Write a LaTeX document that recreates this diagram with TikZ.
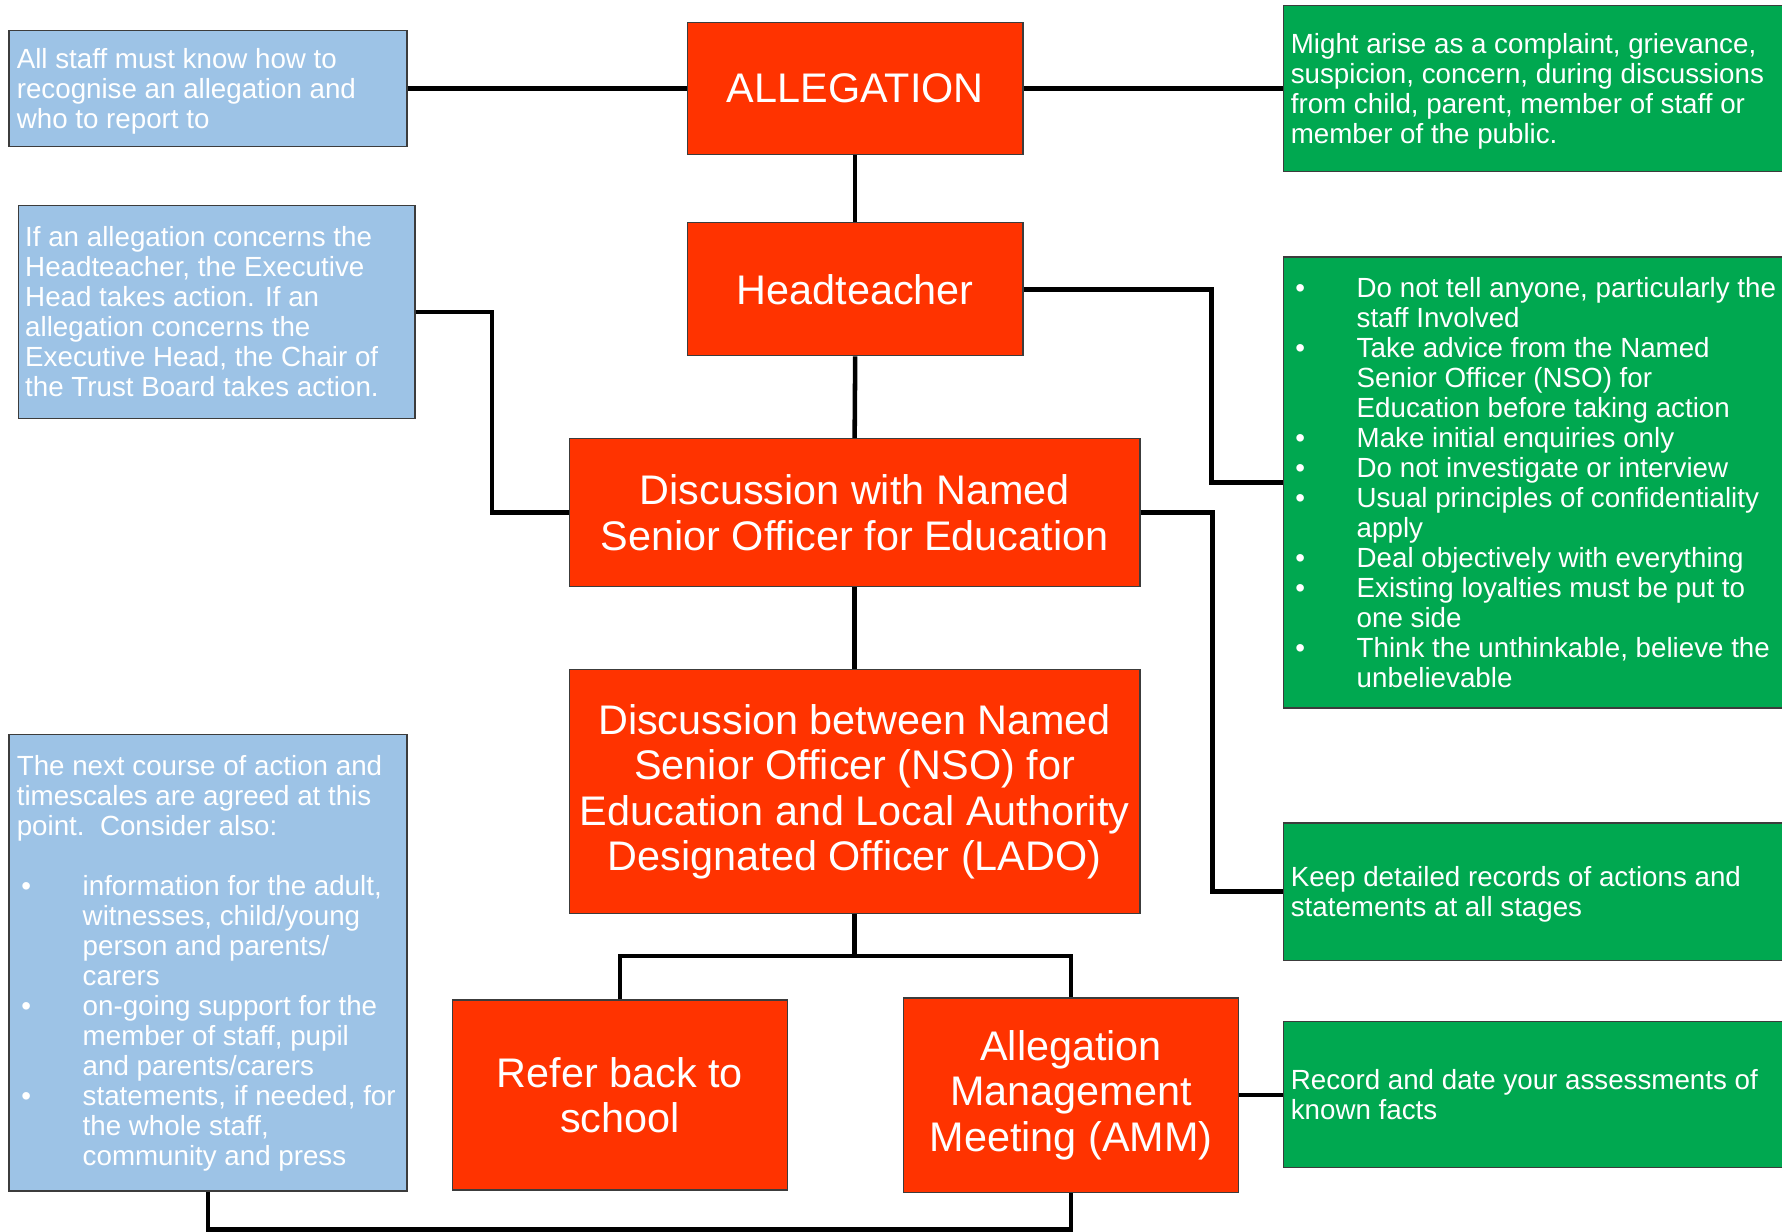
\documentclass[tikz,border=0pt]{standalone}
\usepackage{fontspec}
\setmainfont{Liberation Sans}
\usetikzlibrary{calc}
\definecolor{redfill}{RGB}{255,51,0}
\definecolor{bluefill}{RGB}{157,195,230}
\definecolor{greenfill}{RGB}{0,168,80}
\definecolor{edge}{RGB}{60,60,60}
\newcommand{\bitem}{\makebox[29pt][l]{\hspace{2pt}•}}
\newcommand{\bcont}{\hspace*{29pt}}
\begin{document}
\begin{tikzpicture}[x=0.5pt,y=-0.5pt,
  redbox/.style={draw=edge, line width=0.6pt, fill=redfill, text=white, align=center,
    inner sep=2pt, font=\fontsize{18.2}{20}\selectfont},
  bluebox/.style={draw=edge, line width=0.6pt, fill=bluefill, inner sep=0pt},
  greenbox/.style={draw=edge, line width=0.6pt, fill=greenfill, inner sep=0pt, anchor=west},
  sidetext/.style={text=white, align=left, inner sep=0pt, anchor=west,
    font=\fontsize{12.2}{13.2}\selectfont},
  conn/.style={draw=black, line width=2pt}]
\useasboundingbox (0,0) rectangle (1568,1084);
\clip (0,0) rectangle (1568,1084);
\fill[white] (0,0) rectangle (1568,1084);

% red main boxes
\node[redbox, minimum width=147.5pt, minimum height=58pt] (alleg) at (752.5,78) {ALLEGATION};
\node[redbox, minimum width=147.5pt, minimum height=58.5pt] (head) at (752.5,254.5) {Headteacher};
\node[redbox, minimum width=251pt, minimum height=65pt] (disc1) at (752,451)
  {Discussion with Named\\Senior Officer for Education};
\node[redbox, minimum width=251pt, minimum height=107.5pt] (disc2) at (752,696.5)
  {Discussion between Named\\Senior Officer (NSO) for\\Education and Local Authority\\Designated Officer (LADO)};
\node[redbox, minimum width=147.5pt, minimum height=83.5pt] (refer) at (545.5,963.5)
  {Refer back to\\school};
\node[redbox, minimum width=147.5pt, minimum height=85.5pt] (amm) at (942.5,963.5)
  {Allegation\\Management\\Meeting (AMM)};

% blue boxes
\node[bluebox, minimum width=175pt, minimum height=51pt] (b1) at (183,78) {};
\node[sidetext] at ([xshift=3.5pt,yshift=-1.3pt]b1.west)
  {All staff must know how to\\recognise an allegation and\\who to report to};
\node[bluebox, minimum width=174.5pt, minimum height=93.5pt] (b2) at (190.5,274.5) {};
\node[sidetext] at ([xshift=3.2pt]b2.west)
  {If an allegation concerns the\\Headteacher, the Executive\\Head takes action. If an\\allegation concerns the\\Executive Head, the Chair of\\the Trust Board takes action.};
\node[bluebox, minimum width=175pt, minimum height=201pt] (b3) at (183,847) {};
\node[sidetext] at ([xshift=3.5pt,yshift=-0.5pt]b3.west)
  {The next course of action and\\timescales are agreed at this\\point.\ \ Consider also:\\[13.2pt]
   \bitem information for the adult,\\\bcont witnesses, child/young\\\bcont person and parents/\\\bcont carers\\
   \bitem on-going support for the\\\bcont member of staff, pupil\\\bcont and parents/carers\\
   \bitem statements, if needed, for\\\bcont the whole staff,\\\bcont community and press};

% green boxes
\node[greenbox, minimum width=230pt, minimum height=73pt] (g1) at (1129,78) {};
\node[sidetext] at ([xshift=3.2pt,yshift=-1.3pt]g1.west)
  {Might arise as a complaint, grievance,\\suspicion, concern, during discussions\\from child, parent, member of staff or\\member of the public.};
\node[greenbox, minimum width=230pt, minimum height=198.5pt] (g2) at (1129,424.5) {};
\node[sidetext] at ([xshift=3.2pt]g2.west)
  {\bitem Do not tell anyone, particularly the\\\bcont staff Involved\\
   \bitem Take advice from the Named\\\bcont Senior Officer (NSO) for\\\bcont Education before taking action\\
   \bitem Make initial enquiries only\\
   \bitem Do not investigate or interview\\
   \bitem Usual principles of confidentiality\\\bcont apply\\
   \bitem Deal objectively with everything\\
   \bitem Existing loyalties must be put to\\\bcont one side\\
   \bitem Think the unthinkable, believe the\\\bcont unbelievable};
\node[greenbox, minimum width=230pt, minimum height=60.5pt] (g3) at (1129,784.5) {};
\node[sidetext] at ([xshift=3.2pt,yshift=-1pt]g3.west)
  {Keep detailed records of actions and\\statements at all stages};
\node[greenbox, minimum width=230pt, minimum height=64pt] (g4) at (1129,963) {};
\node[sidetext] at ([xshift=3.2pt]g4.west)
  {Record and date your assessments of\\known facts};

% junction coordinates
\coordinate (jh) at (1066,0);
\coordinate (jb) at (433,0);
\coordinate (jd) at (1067,0);
\coordinate (jm) at (0,841);
\coordinate (jl) at (0,1082);

% connectors
\draw[conn] (b1.east) -- (alleg.west);
\draw[conn] (alleg.east) -- (alleg.east -| g1.west);
\draw[conn] (alleg.south) -- (head.north);
\draw[conn] (head.south) -- (disc1.north);
\draw[conn] (disc1.south) -- (disc2.north);
\draw[conn] (head.east) -- (head.east -| jh) -- (g2.west -| jh) -- (g2.west);
\draw[conn] (b2.east) -- (b2.east -| jb) -- (disc1.west -| jb) -- (disc1.west);
\draw[conn] (disc1.east) -- (disc1.east -| jd) -- (g3.west -| jd) -- (g3.west);
\draw[conn] (disc2.south) -- (disc2.south |- jm);
\draw[conn] (refer.north) -- (refer.north |- jm) -- (amm.north |- jm) -- (amm.north);
\draw[conn] (amm.east) -- (amm.east -| g4.west);
\draw[conn] (b3.south) -- (b3.south |- jl) -- (amm.south |- jl) -- (amm.south);
\end{tikzpicture}
\end{document}
